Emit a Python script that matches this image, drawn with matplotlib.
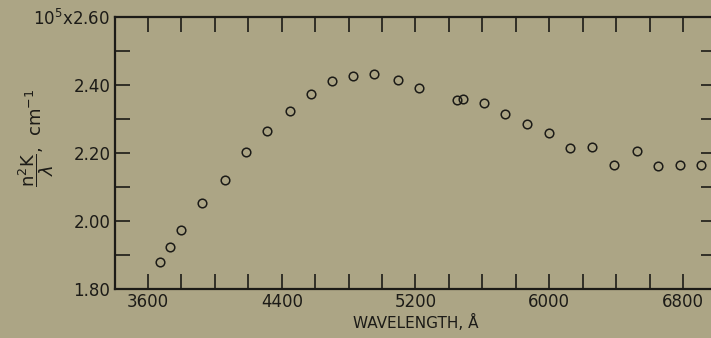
import numpy as np
import matplotlib
matplotlib.use('Agg')
import matplotlib.pyplot as plt
from matplotlib.ticker import MultipleLocator, FixedLocator

# values (wavelength in angstrom, n^2 K / lambda in 1e5 cm^-1)
wavelength = [3670, 3732, 3797, 3923, 4060, 4184, 4313, 4448, 4573, 4701,
              4828, 4953, 5095, 5221, 5450, 5482, 5608, 5735, 5869, 5998,
              6126, 6256, 6389, 6523, 6652, 6780, 6909]
absorption = [1.879, 1.924, 1.974, 2.053, 2.120, 2.204, 2.264, 2.324, 2.374, 2.412,
              2.426, 2.433, 2.416, 2.390, 2.355, 2.358, 2.346, 2.315, 2.285, 2.258,
              2.215, 2.217, 2.166, 2.206, 2.163, 2.164, 2.164]

x_ticks = [3600, 4400, 5200, 6000, 6800]
y_ticks = [1.80, 2.00, 2.20, 2.40, 2.60]
y_labels = ['1.80', '2.00', '2.20', '2.40', '10$^5$x2.60']

bg = '#aca585'
ink = '#1c1b17'

fig = plt.figure(figsize=(7.11, 3.38), dpi=100, facecolor=bg)
ax = fig.add_axes([114.6 / 711, 1 - 289 / 338, (716.4 - 114.6) / 711, 272 / 338])
ax.set_facecolor(bg)

ax.plot(wavelength, absorption, linestyle='none', marker='o', markersize=6.2,
        markerfacecolor='none', markeredgecolor=ink, markeredgewidth=1.1)

ax.set_xlim(3400, 7000)
ax.set_ylim(1.80, 2.60)

ax.xaxis.set_major_locator(FixedLocator(x_ticks))
ax.xaxis.set_minor_locator(MultipleLocator(200))
ax.yaxis.set_major_locator(FixedLocator(y_ticks))
ax.yaxis.set_minor_locator(MultipleLocator(0.1))
ax.set_yticklabels(y_labels)
ax.set_xticklabels([str(v) for v in x_ticks])

for s in ax.spines.values():
    s.set_linewidth(1.6)
    s.set_color(ink)

ax.tick_params(which='both', direction='in', length=10.5, width=1.2, color=ink,
               top=True, right=True, labelcolor=ink, labelsize=12, pad=3)

ax.set_xlabel('WAVELENGTH, Å', fontsize=11, color=ink, labelpad=2)
fig.text(36 / 711, 1 - 138 / 338,
         r'$\dfrac{\mathregular{n^2K}}{\lambda}$,  cm$^{-1}$',
         fontsize=13, color=ink, rotation=90, ha='center', va='center')

fig.savefig('out.png', dpi=100, facecolor=bg)
